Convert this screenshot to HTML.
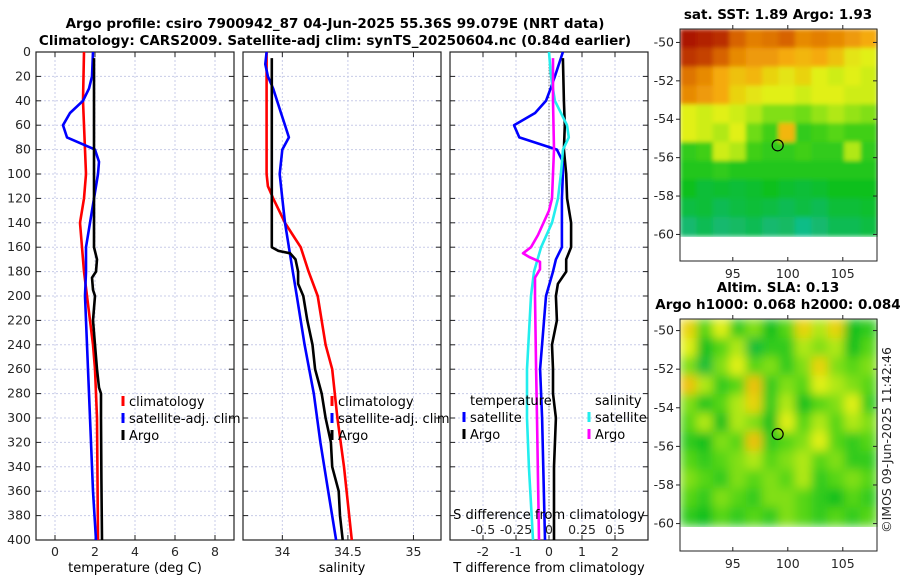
<!DOCTYPE html>
<html><head><meta charset="utf-8"><style>
body{margin:0;background:#fff;width:900px;height:580px;overflow:hidden}
svg{display:block;font-family:"DejaVu Sans","Liberation Sans",sans-serif}
.t{font-size:13.5px;font-weight:bold;fill:#000}
.tk{font-size:12.5px;fill:#262626}
.lg{font-size:13px;fill:#000}
</style></head><body>
<svg id="fig" width="900" height="580" viewBox="0 0 900 580" xmlns="http://www.w3.org/2000/svg">
<text class="t" x="335" y="28" text-anchor="middle">Argo profile: csiro 7900942_87 04-Jun-2025 55.36S 99.079E (NRT data)</text>
<text class="t" x="335" y="45" text-anchor="middle">Climatology: CARS2009. Satellite-adj clim: synTS_20250604.nc (0.84d earlier)</text>
<g id="g1"></g>
<g id="g2"></g>
<g id="g3"></g>
<g id="m1"></g>
<g id="m2"></g>
<text class="tk" transform="translate(891,440) rotate(-90)" text-anchor="middle">©IMOS 09-Jun-2025 11:42:46</text>
</svg>
<script>
// ---------- data ----------
const depthTicks=[0,20,40,60,80,100,120,140,160,180,200,220,240,260,280,300,320,340,360,380,400];
const tTicks=[0,2,4,6,8];
const sTicks=[34,34.5,35];
const tdTicks=[-2,-1,0,1,2];
const sdTicks=[-0.5,-0.25,0,0.25,0.5];
const sdTickLabels=["-0.5","-0.25","0","0.25","0.5"];

const climTDepth=[0,40,80,100,120,140,160,180,200,220,240,260,280,300,400];
const climT=[1.45,1.4,1.5,1.55,1.45,1.25,1.35,1.45,1.6,1.75,1.9,2.0,2.05,2.1,2.15];
const satTDepth=[0,20,30,40,50,60,70,80,90,100,120,140,160,180,200,240,280,320,360,400];
const satT=[1.9,1.85,1.7,1.4,0.75,0.4,0.6,2.0,2.2,2.15,1.95,1.75,1.55,1.55,1.5,1.6,1.7,1.8,1.9,2.05];
const argoTDepth=[5,60,120,160,170,180,185,195,200,220,240,260,275,280,300,350,400];
const argoT=[1.95,1.95,1.95,1.95,2.1,2.05,1.85,1.9,2.0,1.9,2.0,2.1,2.2,2.3,2.3,2.32,2.35];

const climSDepth=[0,40,80,100,110,120,140,150,160,180,200,240,260,280,300,340,380,400];
const climS=[33.88,33.88,33.88,33.88,33.89,33.93,34.02,34.08,34.14,34.2,34.27,34.33,34.38,34.4,34.42,34.47,34.51,34.53];
const satSDepth=[0,10,20,30,40,50,60,70,80,100,120,140,160,180,200,240,280,320,360,400];
const satS=[33.88,33.87,33.89,33.93,33.96,33.99,34.02,34.05,34.0,33.98,34.0,34.02,34.05,34.08,34.11,34.17,34.24,34.29,34.35,34.41];
const argoSDepth=[5,160,163,165,170,180,190,200,220,240,260,280,300,320,340,360,380,400];
const argoS=[33.92,33.92,33.97,34.06,34.1,34.12,34.12,34.16,34.19,34.23,34.25,34.3,34.33,34.37,34.38,34.43,34.44,34.46];

const satTdDepth=[0,20,30,40,50,60,70,80,90,100,120,160,170,180,200,260,300,400];
const satTd=[0.42,0.18,0.05,-0.09,-0.42,-1.06,-0.9,0.24,0.42,0.42,0.39,0.39,0.21,0.12,-0.09,-0.27,-0.21,-0.12];
const argoTdDepth=[5,40,60,80,100,120,140,160,170,180,190,200,220,240,260,280,300,340,400];
const argoTd=[0.42,0.45,0.48,0.45,0.52,0.55,0.67,0.67,0.52,0.52,0.27,0.21,0.24,0.09,0.12,0.12,0.21,0.15,0.15];
const satSdDepth=[0,20,40,60,70,80,100,120,140,160,180,200,260,300,340,400];
const satSd=[0,0.015,0.045,0.136,0.15,0.106,0.09,0.068,0.023,-0.06,-0.114,-0.136,-0.167,-0.167,-0.152,-0.121];
const argoSdDepth=[5,40,80,100,120,130,150,160,165,168,172,178,185,200,260,300,400];
const argoSd=[0.03,0.03,0.038,0.03,0.023,0,-0.083,-0.136,-0.197,-0.15,-0.068,-0.068,-0.106,-0.106,-0.098,-0.091,-0.076];

const latTicks=[-50,-52,-54,-56,-58,-60];
const lonTicks=[95,100,105];
const argoLon=99.079, argoLat=-55.36;
const sstGrid=[
[0.97,0.95,0.93,0.85,0.8,0.82,0.85,0.78,0.8,0.78,0.75,0.72],
[0.92,0.9,0.85,0.78,0.75,0.75,0.72,0.7,0.72,0.68,0.62,0.6],
[0.82,0.78,0.72,0.68,0.7,0.65,0.62,0.65,0.6,0.58,0.6,0.58],
[0.78,0.75,0.72,0.65,0.62,0.6,0.6,0.58,0.6,0.6,0.58,0.58],
[0.6,0.58,0.6,0.58,0.55,0.5,0.5,0.48,0.52,0.55,0.52,0.5],
[0.6,0.58,0.55,0.6,0.48,0.42,0.7,0.4,0.42,0.45,0.42,0.42],
[0.4,0.42,0.58,0.55,0.42,0.4,0.4,0.42,0.4,0.4,0.55,0.4],
[0.38,0.38,0.4,0.38,0.38,0.38,0.38,0.38,0.38,0.38,0.38,0.38],
[0.35,0.3,0.32,0.3,0.32,0.35,0.32,0.3,0.32,0.35,0.35,0.35],
[0.28,0.3,0.25,0.28,0.3,0.28,0.25,0.28,0.25,0.3,0.3,0.32],
[0.2,0.25,0.2,0.22,0.25,0.2,0.22,0.15,0.2,0.25,0.25,0.28]];
const slaGrid=[
[0.65,0.45,0.6,0.4,0.5,0.35,0.45,0.65,0.55,0.65,0.35,0.4],
[0.6,0.35,0.45,0.55,0.3,0.4,0.4,0.55,0.5,0.55,0.35,0.45],
[0.5,0.3,0.5,0.6,0.45,0.5,0.4,0.5,0.65,0.5,0.45,0.5],
[0.68,0.55,0.4,0.45,0.68,0.4,0.5,0.45,0.6,0.55,0.5,0.45],
[0.5,0.38,0.45,0.55,0.65,0.4,0.55,0.35,0.45,0.5,0.6,0.4],
[0.45,0.55,0.35,0.55,0.5,0.35,0.6,0.45,0.55,0.45,0.55,0.5],
[0.4,0.35,0.5,0.45,0.68,0.4,0.45,0.5,0.6,0.45,0.4,0.45],
[0.45,0.4,0.45,0.5,0.55,0.45,0.5,0.55,0.45,0.5,0.4,0.4],
[0.5,0.45,0.4,0.5,0.45,0.5,0.45,0.55,0.4,0.45,0.5,0.45],
[0.45,0.4,0.5,0.45,0.4,0.5,0.5,0.45,0.4,0.35,0.45,0.4],
[0.4,0.35,0.45,0.4,0.45,0.4,0.5,0.45,0.4,0.45,0.4,0.45]];

// ---------- helpers ----------
const NS="http://www.w3.org/2000/svg";
function mk(tag,attrs,parent){const e=document.createElementNS(NS,tag);for(const k in attrs)e.setAttribute(k,attrs[k]);parent.appendChild(e);return e;}
const Y0=52,Y1=540;
const yD=d=>Y0+(Y1-Y0)*d/400;
function panel(g,x0,x1,xmin,xmax,xt,xtl,showY){
  const sx=v=>x0+(x1-x0)*(v-xmin)/(xmax-xmin);
  depthTicks.forEach(d=>{
    const l=mk('line',{x1:x0,x2:x1,y1:yD(d),y2:yD(d),stroke:'#c8cce8','stroke-dasharray':'2,2','stroke-width':1},g);
    
    
    mk('line',{x1:x0,x2:x0+5,y1:yD(d),y2:yD(d),stroke:'#222'},g);
    mk('line',{x1:x1-5,x2:x1,y1:yD(d),y2:yD(d),stroke:'#222'},g);
    if(showY){const tx=mk('text',{x:x0-5,y:yD(d)+4,'text-anchor':'end',class:'tk'},g);tx.textContent=d;
      
      }
  });
  xt.forEach((v,i)=>{
    const l=mk('line',{x1:sx(v),x2:sx(v),y1:Y0,y2:Y1,stroke:'#c8cce8','stroke-dasharray':'2,2'},g);
    
    
    mk('line',{x1:sx(v),x2:sx(v),y1:Y1-5,y2:Y1,stroke:'#222'},g);
    mk('line',{x1:sx(v),x2:sx(v),y1:Y0,y2:Y0+5,stroke:'#222'},g);
    const tx=mk('text',{x:sx(v),y:Y1+16,'text-anchor':'middle',class:'tk'},g);tx.textContent=xtl?xtl[i]:v;
    
    
  });
  const r=mk('rect',{x:x0,y:Y0,width:x1-x0,height:Y1-Y0,fill:'none',stroke:'#222','stroke-width':1.2},g);
  
  
  return sx;
}
function line(g,sx,ds,vs,col,name){
  const p=mk('polyline',{points:ds.map((d,i)=>sx(vs[i]).toFixed(1)+','+yD(d).toFixed(1)).join(' '),fill:'none',stroke:col,'stroke-width':2.6,'stroke-linejoin':'round'},g);
  
  
}
function txt(g,x,y,s,cls,anchor,name){const t=mk('text',{x:x,y:y,class:cls,'text-anchor':anchor||'start'},g);t.textContent=s;
  
  return t;}
function legMark(g,x,y,col){const m=mk('line',{x1:x,x2:x,y1:y-10,y2:y,stroke:col,'stroke-width':3},g);
  
  }

// panel 1
const g1=document.getElementById('g1');
const sx1=panel(g1,36,234,-0.95,8.95,tTicks,null,true);
line(g1,sx1,climTDepth,climT,'#ff0000','climatology-temperature-line');
line(g1,sx1,satTDepth,satT,'#0000ff','satellite-temperature-line');
line(g1,sx1,argoTDepth,argoT,'#000000','argo-temperature-line');
txt(g1,135,572,'temperature (deg C)','lg','middle','x-axis-title-temperature');
[['climatology','#ff0000'],['satellite-adj. clim','#0000ff'],['Argo','#000']].forEach((e,i)=>{legMark(g1,123,406+i*17,e[1]);txt(g1,129,406+i*17,e[0],'lg','start','legend-entry');});

// panel 2
const g2=document.getElementById('g2');
const sx2=panel(g2,243,441,33.7,35.21,sTicks,null,false);
line(g2,sx2,climSDepth,climS,'#ff0000','climatology-salinity-line');
line(g2,sx2,satSDepth,satS,'#0000ff','satellite-salinity-line');
line(g2,sx2,argoSDepth,argoS,'#000000','argo-salinity-line');
txt(g2,342,572,'salinity','lg','middle','x-axis-title-salinity');
[['climatology','#ff0000'],['satellite-adj. clim','#0000ff'],['Argo','#000']].forEach((e,i)=>{legMark(g2,332,406+i*17,e[1]);txt(g2,338,406+i*17,e[0],'lg','start','legend-entry');});

// panel 3
const g3=document.getElementById('g3');
const sx3=panel(g3,450,648,-3,3,tdTicks,null,false);
const sxS=v=>sx3(v*4);
const z=mk('line',{x1:sx3(0),x2:sx3(0),y1:yD(10),y2:Y1,stroke:'#555','stroke-dasharray':'1,2'},g3);


line(g3,sx3,satTdDepth,satTd,'#0000ff','satellite-temperature-diff-line');
line(g3,sx3,argoTdDepth,argoTd,'#000000','argo-temperature-diff-line');
line(g3,sxS,satSdDepth,satSd,'#22eeee','satellite-salinity-diff-line');
line(g3,sxS,argoSdDepth,argoSd,'#ff00ff','argo-salinity-diff-line');
txt(g3,549,572,'T difference from climatology','lg','middle','x-axis-title-tdiff');
txt(g3,549,519,'S difference from climatology','lg','middle','s-axis-title');
sdTicks.forEach((v,i)=>txt(g3,sxS(v),534,sdTickLabels[i],'tk','middle','s-tick-label'));
txt(g3,470,405,'temperature','lg','start','legend-title-temperature');
txt(g3,595,405,'salinity','lg','start','legend-title-salinity');
[['satellite','#0000ff'],['Argo','#000']].forEach((e,i)=>{legMark(g3,464,422+i*17,e[1]);txt(g3,470,422+i*17,e[0],'lg','start','legend-entry');});
[['satellite','#22eeee'],['Argo','#ff00ff']].forEach((e,i)=>{legMark(g3,589,422+i*17,e[1]);txt(g3,595,422+i*17,e[0],'lg','start','legend-entry');});

// maps
const stops=[[0,[0,200,210]],[0.2,[20,185,110]],[0.35,[10,192,30]],[0.48,[110,220,20]],[0.6,[225,240,20]],[0.72,[245,170,10]],[0.85,[215,100,0]],[1,[160,0,0]]];
function cmap(v){for(let i=1;i<stops.length;i++){if(v<=stops[i][0]){const a=stops[i-1],b=stops[i],f=(v-a[0])/(b[0]-a[0]);return 'rgb('+a[1].map((c,k)=>Math.round(c+(b[1][k]-c)*f)).join(',')+')';}}return 'rgb(160,0,0)';}
function map(id,grid,top,imgBot,axBot,latTop,latPerPx,title1,title2,blur){
  const g=document.getElementById(id);const x0=680,x1=877;
  const sxm=lon=>x0+(lon-90.2)*11;
  const sym=lat=>top+(latTop-lat)/latPerPx;
  const rows=grid.length,cols=grid[0].length,cw=(x1-x0)/cols,ch=(imgBot-top)/rows;
  const gi=mk('g',{},g);
  const f=mk('filter',{id:'bl'+id,x:0,y:0,width:1,height:1},g);mk('feGaussianBlur',{stdDeviation:blur,edgeMode:'duplicate'},f);gi.setAttribute('filter','url(#bl'+id+')');
  grid.forEach((row,r)=>row.forEach((v,c)=>{
    const cell=mk('rect',{x:x0+c*cw,y:top+r*ch,width:cw+0.6,height:ch+0.6,fill:cmap(v)},gi);
    
    
  }));
  const b=mk('rect',{x:x0,y:top,width:x1-x0,height:axBot-top,fill:'none',stroke:'#222'},g);
  
  
  latTicks.forEach(l=>{mk('line',{x1:x0-4,x2:x0,y1:sym(l),y2:sym(l),stroke:'#222'},g);mk('line',{x1:x1,x2:x1-4,y1:sym(l),y2:sym(l),stroke:'#222'},g);
    txt(g,x0-6,sym(l)+4,String(l),'tk','end','lat-tick-label');});
  lonTicks.forEach(l=>{mk('line',{x1:sxm(l),x2:sxm(l),y1:axBot,y2:axBot-4,stroke:'#222'},g);mk('line',{x1:sxm(l),x2:sxm(l),y1:top,y2:top-4,stroke:'#222'},g);
    txt(g,sxm(l),axBot+17,String(l),'tk','middle','lon-tick-label');});
  const c=mk('circle',{cx:sxm(argoLon),cy:sym(argoLat),r:5.5,fill:'none',stroke:'#000','stroke-width':1.2},g);
  
  
  if(title2){txt(g,778,top-27,title1,'t','middle','map-title');txt(g,778,top-10,title2,'t','middle','map-subtitle');}
  else txt(g,778,top-10,title1,'t','middle','map-title');
}
map('m1',sstGrid,29,236,261,-49.3,1/19.2,'sat. SST: 1.89 Argo: 1.93',null,2);
map('m2',slaGrid,319,526,551,-49.4,1/19.3,'Altim. SLA: 0.13','Argo h1000: 0.068 h2000: 0.084',5);
</script>
</body></html>
